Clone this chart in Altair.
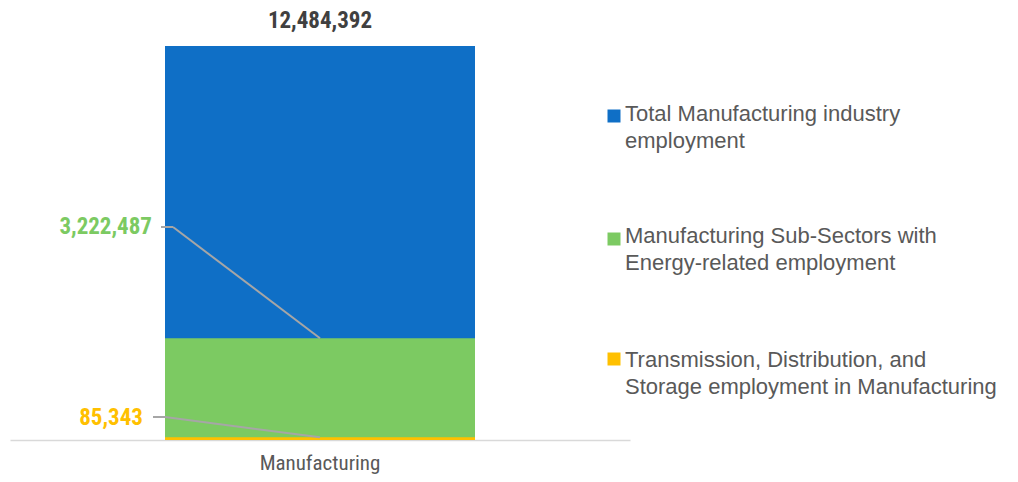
import altair as alt
import pandas as pd

categories = ["Manufacturing"]
series = [
    "Total Manufacturing industry employment",
    "Manufacturing Sub-Sectors with Energy-related employment",
    "Transmission, Distribution, and Storage employment in Manufacturing",
]
legend_lines = [
    "Total Manufacturing industry\nemployment",
    "Manufacturing Sub-Sectors with\nEnergy-related employment",
    "Transmission, Distribution, and\nStorage employment in Manufacturing",
]
values = [12484392, 3222487, 85343]
colors = ["#0f6fc6", "#7cca62", "#ffc000"]

df = pd.DataFrame({
    "category": categories * 3,
    "series": series,
    "value": values,
    "legend": legend_lines,
})

COND = "Liberation Sans Narrow, Roboto Condensed, DejaVu Sans Condensed, sans-serif"
LEG = "Liberation Sans, Arial, sans-serif"

W, H = 620, 426
DMAX = 13500000
BAR_CENTER = W / 2


def ypix(v):
    return H - v / DMAX * H


color_scale = alt.Scale(domain=series, range=colors)
xs = alt.X("category:N", scale=alt.Scale(paddingInner=0.5, paddingOuter=0.25),
           axis=alt.Axis(title=None, ticks=False, labelAngle=0, labelFontSize=21,
                         labelFont=COND, labelColor="#595959", labelPadding=12,
                         domainColor="#d9d9d9", domainWidth=1.5))
ys = alt.Y("value:Q", stack=None, scale=alt.Scale(domain=[0, DMAX]), axis=None)

base = alt.Chart(df)

bars = base.mark_bar(size=310).encode(
    x=xs, y=ys,
    color=alt.Color("series:N", scale=color_scale, legend=None),
)

total_label = base.transform_filter(alt.datum.series == series[0]).mark_text(
    font=COND, fontSize=23, fontWeight="bold", color="#404040", baseline="middle", dy=-25
).encode(x=xs, y=ys, text=alt.Text("value:Q", format=","))

# label anchor positions (view pixels)
G_LX, G_LY, G_HX1, G_HX2 = 142, 213, 151, 163
Y_LX, Y_LY, Y_HX1, Y_HX2 = 133, 404, 143, 155

green_label = base.transform_filter(alt.datum.series == series[1]).mark_text(
    font=COND, fontSize=23, fontWeight="bold", color=colors[1], align="right", baseline="middle"
).encode(x=alt.value(G_LX), y=alt.value(G_LY), text=alt.Text("value:Q", format=","))

yellow_label = base.transform_filter(alt.datum.series == series[2]).mark_text(
    font=COND, fontSize=23, fontWeight="bold", color=colors[2], align="right", baseline="middle"
).encode(x=alt.value(Y_LX), y=alt.value(Y_LY), text=alt.Text("value:Q", format=","))

lead_col = "#a6a6a6"
green_lead_d = base.transform_filter(alt.datum.series == series[1]).mark_rule(
    color=lead_col, strokeWidth=2
).encode(x=alt.value(BAR_CENTER), y=ys, x2=alt.value(G_HX2), y2=alt.value(G_LY))
green_lead_h = base.transform_filter(alt.datum.series == series[1]).mark_rule(
    color=lead_col, strokeWidth=2, yOffset=G_LY - ypix(values[1])
).encode(x=alt.value(G_HX1), x2=alt.value(G_HX2), y=ys)

yellow_lead_d = base.transform_filter(alt.datum.series == series[2]).mark_rule(
    color=lead_col, strokeWidth=2
).encode(x=alt.value(BAR_CENTER), y=ys, x2=alt.value(Y_HX2), y2=alt.value(Y_LY - 1))
yellow_lead_h = base.transform_filter(alt.datum.series == series[2]).mark_rule(
    color=lead_col, strokeWidth=2, yOffset=Y_LY - 1 - ypix(values[2])
).encode(x=alt.value(Y_HX1), x2=alt.value(Y_HX2), y=ys)

legend_y_sq = [102, 225, 345]
legend_y_txt = [90, 212, 336]
legend_layers = []
for i, s in enumerate(series):
    sub = base.transform_filter(alt.datum.series == s)
    legend_layers.append(sub.mark_square(size=169, opacity=1).encode(
        x=alt.value(604), y=alt.value(legend_y_sq[i]),
        color=alt.Color("series:N", scale=color_scale, legend=None)))
    legend_layers.append(sub.mark_text(
        font=LEG, fontSize=22, color="#595959", align="left", baseline="top",
        lineBreak="\n", lineHeight=27
    ).encode(x=alt.value(615), y=alt.value(legend_y_txt[i]), text="legend:N"))

chart = alt.layer(
    bars, green_lead_d, green_lead_h, yellow_lead_d, yellow_lead_h,
    total_label, green_label, yellow_label, *legend_layers
).properties(
    width=W, height=H,
    autosize=alt.AutoSizeParams(type="none"),
    padding={"left": 2, "top": 6, "right": 378, "bottom": 34},
).configure_view(stroke=None)

chart.save("out.html", embed_options={"renderer": "svg", "actions": False})
